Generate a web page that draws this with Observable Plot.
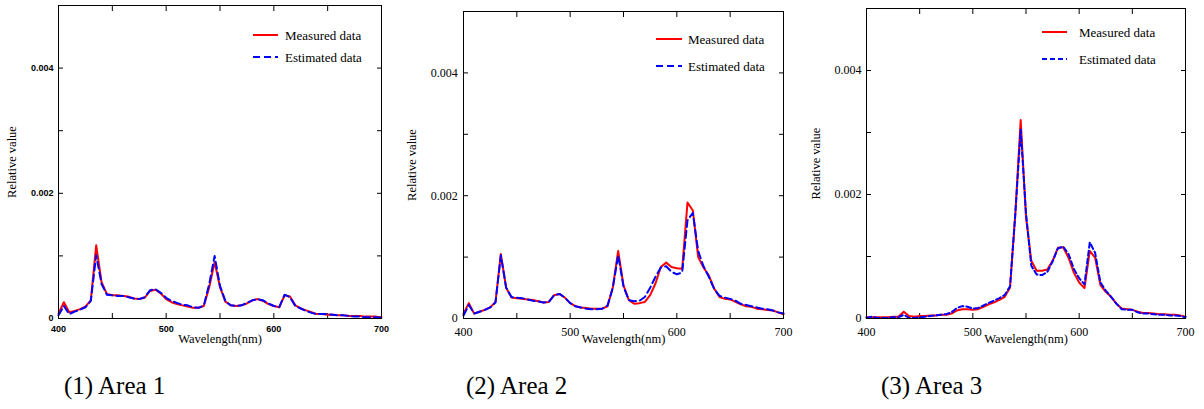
<!DOCTYPE html>
<html>
<head>
<meta charset="utf-8">
<script src="https://cdn.jsdelivr.net/npm/d3@7"></script>
<script src="https://cdn.jsdelivr.net/npm/@observablehq/plot@0.6"></script>
<style>
  html, body { margin: 0; padding: 0; background: #fff; }
  #root { position: relative; width: 1204px; height: 409px; overflow: hidden; background: #fff; font-family: "Liberation Serif", serif; }
  .panel { position: absolute; top: 0; }
  .caption { position: absolute; top: 373px; font-family: "Liberation Serif", serif; font-size: 25px; line-height: 25px; color: #000; white-space: nowrap; }
  .legend { position: absolute; top: 0; left: 0; overflow: visible; }
  .legend text { font-family: "Liberation Serif", serif; font-size: 13px; fill: #000; }
</style>
</head>
<body>
<div id="root"></div>
<script>
// ---- data (wavelength in nm, relative value) ----
const wavelengths = [400,405,410,415,420,425,430,435,440,445,450,455,460,465,470,475,480,485,490,495,
  500,505,510,515,520,525,530,535,540,545,550,555,560,565,570,575,580,585,590,595,
  600,605,610,615,620,625,630,635,640,645,650,655,660,665,670,675,680,685,690,695,700];

const area1Measured = [0.00008,0.00026,0.00010,0.00012,0.00015,0.00019,0.00029,0.00117,0.00058,0.00039,
  0.00037,0.00037,0.00036,0.00035,0.00032,0.00031,0.00033,0.00044,0.00046,0.00040,
  0.00031,0.00026,0.00023,0.00021,0.00019,0.00017,0.00017,0.00020,0.00050,0.00090,
  0.00050,0.00027,0.00021,0.00020,0.00021,0.00024,0.00029,0.00031,0.00028,0.00023,
  0.00020,0.00018,0.00037,0.00035,0.00021,0.00016,0.00013,0.00010,0.00007,0.00007,
  0.00006,0.00006,0.00005,0.00005,0.00004,0.00004,0.00004,0.00003,0.00003,0.00003,0.00002];
const area1Estimated = [0.00005,0.00020,0.00007,0.00011,0.00014,0.00018,0.00028,0.00101,0.00055,0.00038,
  0.00037,0.00036,0.00036,0.00034,0.00032,0.00031,0.00034,0.00045,0.00047,0.00041,
  0.00033,0.00028,0.00025,0.00022,0.00021,0.00018,0.00017,0.00021,0.00055,0.00100,
  0.00052,0.00028,0.00021,0.00020,0.00021,0.00025,0.00029,0.00031,0.00029,0.00024,
  0.00020,0.00018,0.00038,0.00034,0.00020,0.00016,0.00012,0.00009,0.00007,0.00007,
  0.00007,0.00006,0.00005,0.00005,0.00004,0.00003,0.00003,0.00002,0.00002,0.00002,0.00001];

const area2Measured = [0.00008,0.00025,0.00008,0.00011,0.00014,0.00018,0.00027,0.00105,0.00050,0.00034,
  0.00033,0.00032,0.00031,0.00030,0.00028,0.00026,0.00027,0.00038,0.00040,0.00034,
  0.00025,0.00020,0.00018,0.00017,0.00016,0.00016,0.00016,0.00020,0.00051,0.00110,
  0.00054,0.00030,0.00024,0.00025,0.00027,0.00038,0.00057,0.00084,0.00091,0.00084,
  0.00082,0.00081,0.00189,0.00176,0.00100,0.00083,0.00070,0.00049,0.00035,0.00032,
  0.00031,0.00027,0.00023,0.00020,0.00019,0.00016,0.00015,0.00014,0.00013,0.00010,0.00007];
const area2Estimated = [0.00005,0.00022,0.00008,0.00011,0.00014,0.00018,0.00026,0.00103,0.00050,0.00035,
  0.00034,0.00033,0.00031,0.00029,0.00028,0.00026,0.00027,0.00038,0.00040,0.00034,
  0.00025,0.00020,0.00018,0.00016,0.00015,0.00015,0.00016,0.00021,0.00050,0.00103,
  0.00052,0.00030,0.00028,0.00029,0.00035,0.00050,0.00068,0.00083,0.00085,0.00076,
  0.00072,0.00075,0.00160,0.00172,0.00110,0.00085,0.00068,0.00048,0.00037,0.00034,
  0.00032,0.00029,0.00024,0.00022,0.00020,0.00018,0.00016,0.00015,0.00013,0.00010,0.00008];

const area3Measured = [0.00002,0.00002,0.00002,0.00002,0.00002,0.00003,0.00003,0.00011,0.00004,0.00003,
  0.00004,0.00004,0.00005,0.00005,0.00006,0.00006,0.00008,0.00013,0.00015,0.00015,
  0.00014,0.00015,0.00019,0.00023,0.00026,0.00030,0.00035,0.00050,0.00170,0.00320,
  0.00163,0.00093,0.00077,0.00077,0.00079,0.00093,0.00114,0.00115,0.00098,0.00074,
  0.00058,0.00049,0.00109,0.00098,0.00054,0.00043,0.00035,0.00024,0.00016,0.00015,
  0.00014,0.00011,0.00009,0.00009,0.00008,0.00007,0.00007,0.00006,0.00006,0.00005,0.00003];
const area3Estimated = [0.00001,0.00003,0.00001,0.00001,0.00001,0.00002,0.00002,0.00006,0.00001,0.00001,
  0.00002,0.00003,0.00004,0.00005,0.00006,0.00007,0.00010,0.00017,0.00020,0.00019,
  0.00016,0.00017,0.00021,0.00025,0.00029,0.00033,0.00038,0.00052,0.00170,0.00305,
  0.00170,0.00085,0.00071,0.00070,0.00075,0.00092,0.00113,0.00116,0.00104,0.00080,
  0.00065,0.00055,0.00123,0.00106,0.00058,0.00045,0.00035,0.00024,0.00015,0.00014,
  0.00014,0.00010,0.00008,0.00008,0.00007,0.00006,0.00006,0.00005,0.00005,0.00004,0.00002];

const xTicks = [400, 450, 500, 550, 600, 650, 700];
const yTicks = [0, 0.001, 0.002, 0.003, 0.004];
const xDomain = [400, 700];
const yDomain = [0, 0.005];
const seriesNames = ["Measured data", "Estimated data"];
const captions = ["(1) Area 1", "(2) Area 2", "(3) Area 3"];

const panels = [
  { left: 0, width: 401, marginLeft: 58, marginRight: 20, marginTop: 5, measured: area1Measured, estimated: area1Estimated,
    tickFont: { fontFamily: "Liberation Sans", fontSize: 9, fontWeight: "bold" }, xPad: 12.5, yPad: 10, yLabelOffset: 51,
    dash: "7,4", legend: { x1: 253, x2: 278, y: [35, 57], tx: 285, ty: [39.5, 61.5] }, capLeft: 64 },
  { left: 400, width: 400, marginLeft: 63, marginRight: 17, marginTop: 11, measured: area2Measured, estimated: area2Estimated,
    tickFont: { fontFamily: "Liberation Serif", fontSize: 12, fontWeight: "normal" }, xPad: 13.5, yPad: 10.7, yLabelOffset: 56,
    dash: "7,4", legend: { x1: 256, x2: 282, y: [39, 66], tx: 288, ty: [44, 71] }, capLeft: 466 },
  { left: 800, width: 404, marginLeft: 66, marginRight: 19, marginTop: 8, measured: area3Measured, estimated: area3Estimated,
    tickFont: { fontFamily: "Liberation Serif", fontSize: 12, fontWeight: "normal" }, xPad: 13.5, yPad: 10, yLabelOffset: 55.5,
    dash: "5,3", legend: { x1: 242, x2: 267, y: [32, 59], tx: 279, ty: [37, 64] }, capLeft: 881 }
];

const root = document.getElementById("root");
const HEIGHT = 368, MB = 50;
const labelFont = { fontFamily: "Liberation Serif", fontSize: 12.5 };

panels.forEach((p, k) => {
  const rows = wavelengths.map((w, i) => ({ w, m: p.measured[i], e: p.estimated[i] }));
  const fmtY = d => d === 0 ? "0" : (Math.round(d * 1000) % 2 === 0 ? d.toFixed(3) : "");
  const fmtX = d => d % 100 === 0 ? String(d) : "";
  const chart = Plot.plot({
    width: p.width, height: HEIGHT,
    marginLeft: p.marginLeft, marginRight: p.marginRight, marginTop: p.marginTop, marginBottom: MB,
    x: { domain: xDomain },
    y: { domain: yDomain },
    style: { background: "transparent", color: "#000", overflow: "visible" },
    marks: [
      Plot.axisX({ anchor: "bottom", ticks: xTicks, tickSize: -5, tickPadding: p.xPad, tickFormat: fmtX, label: null, ...p.tickFont }),
      Plot.axisX({ anchor: "bottom", ticks: [], label: "Wavelength(nm)", labelAnchor: "center", labelOffset: 24, labelArrow: "none", ...labelFont }),
      Plot.axisX({ anchor: "top", ticks: xTicks, tickSize: -5, tickFormat: () => "", label: null }),
      Plot.axisY({ anchor: "left", ticks: yTicks, tickSize: -5, tickPadding: p.yPad, tickFormat: fmtY, label: null, ...p.tickFont }),
      Plot.axisY({ anchor: "left", ticks: [], label: "Relative value", labelAnchor: "center", labelOffset: p.yLabelOffset, labelArrow: "none", ...labelFont }),
      Plot.axisY({ anchor: "right", ticks: yTicks, tickSize: -5, tickFormat: () => "", label: null }),
      Plot.line(rows, { x: "w", y: "m", stroke: "#ff0000", strokeWidth: 2 }),
      Plot.line(rows, { x: "w", y: "e", stroke: "#0000ff", strokeWidth: 2, strokeDasharray: p.dash }),
      Plot.frame({ stroke: "#000", strokeWidth: 1 })
    ]
  });
  const div = document.createElement("div");
  div.className = "panel";
  div.style.left = p.left + "px";
  div.appendChild(chart);

  // legend overlay
  const ns = "http://www.w3.org/2000/svg";
  const lg = document.createElementNS(ns, "svg");
  lg.setAttribute("class", "legend");
  lg.setAttribute("width", p.width);
  lg.setAttribute("height", 90);
  const styles = [{ stroke: "#ff0000", dash: null }, { stroke: "#0000ff", dash: p.dash }];
  seriesNames.forEach((name, j) => {
    const ln = document.createElementNS(ns, "line");
    ln.setAttribute("x1", p.legend.x1); ln.setAttribute("x2", p.legend.x2);
    ln.setAttribute("y1", p.legend.y[j]); ln.setAttribute("y2", p.legend.y[j]);
    ln.setAttribute("stroke", styles[j].stroke); ln.setAttribute("stroke-width", 2);
    if (styles[j].dash) ln.setAttribute("stroke-dasharray", styles[j].dash);
    lg.appendChild(ln);
    const t = document.createElementNS(ns, "text");
    t.setAttribute("x", p.legend.tx); t.setAttribute("y", p.legend.ty[j]);
    t.textContent = name;
    lg.appendChild(t);
  });
  div.appendChild(lg);
  root.appendChild(div);

  const cap = document.createElement("div");
  cap.className = "caption";
  cap.style.left = p.capLeft + "px";
  cap.textContent = captions[k];
  root.appendChild(cap);
});
</script>
</body>
</html>
